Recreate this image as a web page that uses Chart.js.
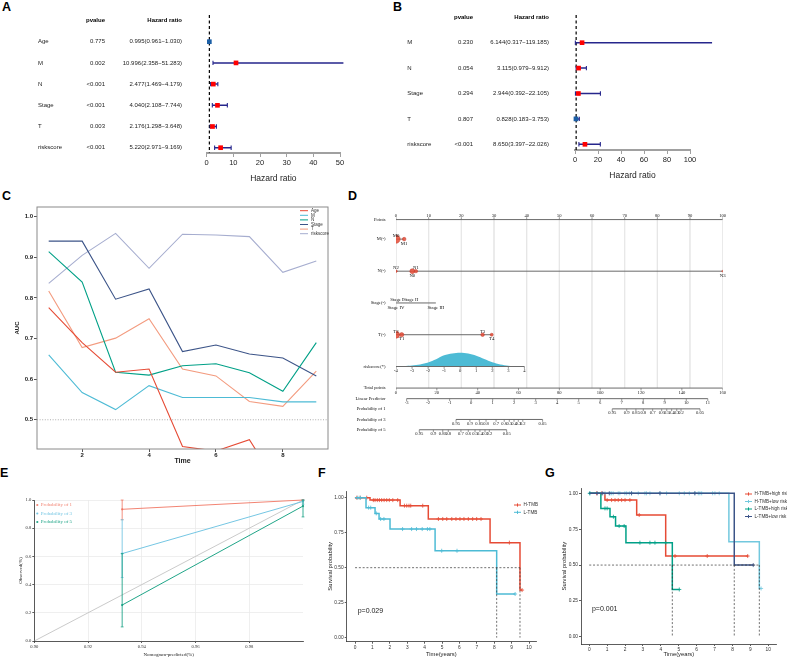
<!DOCTYPE html>
<html>
<head>
<meta charset="utf-8">
<script src="https://cdn.jsdelivr.net/npm/chart.js@4.4.0/dist/chart.umd.min.js"></script>
<style>
body{margin:0;background:#fff;width:787px;height:658px;position:relative;overflow:hidden}
canvas{position:absolute}
.tag{position:absolute;font:bold 12.5px Arial,"Liberation Sans",sans-serif;line-height:12.5px;color:#000}
</style>
</head>
<body>
<div class="tag" style="left:2px;top:1px">A</div>
<div class="tag" style="left:393px;top:1px">B</div>
<div class="tag" style="left:2px;top:190px">C</div>
<div class="tag" style="left:348px;top:190px">D</div>
<div class="tag" style="left:0px;top:467px">E</div>
<div class="tag" style="left:318px;top:467px">F</div>
<div class="tag" style="left:545px;top:467px">G</div>

<canvas id="cA" width="390" height="192" style="left:0;top:0"></canvas>
<canvas id="cB" width="397" height="192" style="left:390px;top:0"></canvas>
<canvas id="cC" width="340" height="270" style="left:0;top:197px"></canvas>
<canvas id="cD" width="447" height="250" style="left:340px;top:195px"></canvas>
<canvas id="cE" width="315" height="168" style="left:0;top:490px"></canvas>
<canvas id="cF" width="230" height="173" style="left:318px;top:485px"></canvas>
<canvas id="cG" width="239" height="178" style="left:548px;top:480px"></canvas>

<script>
// ---------- A: univariate cox ----------
var uniVars = ['Age', 'M', 'N', 'Stage', 'T', 'riskscore'];
var uniP = ['0.775', '0.002', '<0.001', '<0.001', '0.003', '<0.001'];
var uniHR = [0.995, 10.996, 2.477, 4.040, 2.176, 5.220];
var uniLow = [0.961, 2.358, 1.469, 2.108, 1.298, 2.971];
var uniHigh = [1.030, 51.283, 4.179, 7.744, 3.648, 9.169];
var uniTicks = [0, 10, 20, 30, 40, 50];

// ---------- B: multivariate cox ----------
var multiVars = ['M', 'N', 'Stage', 'T', 'riskscore'];
var multiP = ['0.230', '0.054', '0.294', '0.807', '<0.001'];
var multiHR = [6.144, 3.115, 2.944, 0.828, 8.650];
var multiLow = [0.317, 0.979, 0.392, 0.183, 3.397];
var multiHigh = [119.185, 9.912, 22.105, 3.753, 22.026];
var multiTicks = [0, 20, 40, 60, 80, 100];

// ---------- C: time dependent AUC ----------
var aucTime = [1, 2, 3, 4, 5, 6, 7, 8, 9];
var aucAge = [0.776, 0.690, 0.617, 0.625, 0.434, 0.423, 0.451, 0.320, 0.350];
var aucM = [0.660, 0.567, 0.525, 0.584, 0.555, 0.555, 0.555, 0.544, 0.544];
var aucN = [0.914, 0.839, 0.617, 0.610, 0.633, 0.638, 0.616, 0.570, 0.690];
var aucStage = [0.940, 0.940, 0.797, 0.822, 0.668, 0.684, 0.662, 0.652, 0.608];
var aucT = [0.817, 0.678, 0.701, 0.749, 0.625, 0.608, 0.545, 0.533, 0.620];
var aucRisk = [0.836, 0.905, 0.959, 0.873, 0.957, 0.955, 0.951, 0.863, 0.891];
var aucTicksX = [2, 4, 6, 8];
var aucTicksY = [0.5, 0.6, 0.7, 0.8, 0.9, 1.0];

// ---------- D: nomogram ----------
var pointsTicks = [0, 10, 20, 30, 40, 50, 60, 70, 80, 90, 100];
var mLev = ['M0', 'M1'], mPts = [0, 2.5], mFreq = [0.85, 0.16];
var nLev = ['N2', 'N0', 'N1', 'N3'], nPts = [0, 5.0, 6.1, 100], nFreq = [0.08, 0.3, 0.14, 0.04];
var stLev = ['Stage IV', 'Stage I', 'Stage II', 'Stage III'], stPts = [0, 0.3, 4.5, 12.2];
var tLev = ['T2', 'T1', 'T3', 'T4'], tPts = [0, 1.75, 26.5, 29.3], tFreq = [0.62, 0.22, 0.16, 0.11];
var riskTicks = [-4, -3, -2, -1, 0, 1, 2, 3, 4];
var riskPtsEnds = [0, 39.3];
var riskDensX = [-4, -3.5, -3, -2.5, -2, -1.5, -1, -0.5, 0, 0.5, 1, 1.5, 2, 2.5, 3, 3.5, 4];
var riskDens = [0.3, 0.6, 1.1, 2.2, 4.2, 7.6, 11.6, 13.6, 14.3, 13.5, 11.2, 7.8, 4.3, 2.0, 0.8, 0.3, 0.1];
var totalTicks = [0, 20, 40, 60, 80, 100, 120, 140, 160];
var lpTicks = [-3, -2, -1, 0, 1, 2, 3, 4, 5, 6, 7, 8, 9, 10, 11];
var lpTotalEnds = [5.2, 152.7];
var probLabels = ['0.95', '0.9', '0.85', '0.8', '0.7', '0.6', '0.5', '0.4', '0.3', '0.2', '0.05'];
var prob1Total = [105.9, 113.0, 117.5, 121.1, 125.7, 130.1, 132.6, 135.0, 137.5, 139.6, 148.9];
var prob3Total = [29.4, 36.2, 40.8, 44.1, 49.0, 53.0, 55.5, 57.8, 59.9, 62.1, 71.8];
var prob5Total = [11.4, 18.3, 22.9, 25.6, 31.8, 35.4, 38.7, 41.1, 43.6, 45.7, 54.2];

// ---------- E: calibration ----------
var calPred = [0.9327, 1.0];
var cal1 = [0.934, 1.0], cal1Lo = [0.86, 0.995], cal1Hi = [1.0, 1.0];
var cal3 = [0.620, 0.990], cal3Lo = [0.45, 0.97], cal3Hi = [0.86, 1.0];
var cal5 = [0.255, 0.957], cal5Lo = [0.10, 0.88], cal5Hi = [0.62, 1.0];
var calTicksX = [0.90, 0.92, 0.94, 0.96, 0.98];
var calTicksY = [0, 0.2, 0.4, 0.6, 0.8, 1.0];

// ---------- F: KM by TMB ----------
var fHTime = [0, 0.86, 2.59, 4.21, 7.76, 9.48, 9.60];
var fHSurv = [1, 0.983, 0.943, 0.848, 0.679, 0.340, 0.340];
var fHCens = [0.1, 0.29, 0.67, 1.05, 1.15, 1.28, 1.4, 1.53, 1.67, 1.82, 1.97, 2.17, 2.45, 2.84, 2.97, 3.1, 3.2, 3.89,
  4.79, 5.04, 5.27, 5.56, 5.8, 6.03, 6.26, 6.51, 6.76, 6.99, 7.24, 8.87, 9.6];
var fLTime = [0, 0.63, 1.15, 1.38, 2.01, 4.60, 8.14, 9.20];
var fLSurv = [1, 0.929, 0.888, 0.848, 0.776, 0.621, 0.312, 0.312];
var fLCens = [0.16, 0.3, 0.78, 0.9, 1.22, 1.47, 1.66, 2.73, 3.25, 3.53, 3.86, 4.16, 4.3, 4.98, 5.86, 9.2];
var fMedians = [8.14, 9.48];

// ---------- G: KM by TMB + risk ----------
var gHHTime = [0, 0.877, 2.65, 4.27, 8.88];
var gHHSurv = [1, 0.953, 0.849, 0.563, 0.563];
var gHHCens = [0.41, 0.69, 1.0, 1.25, 1.44, 1.62, 1.81, 2.0, 2.27, 2.79, 4.79, 6.59, 8.85];
var gHLTime = [0, 7.8, 9.5, 9.6];
var gHLSurv = [1, 0.662, 0.337, 0.337];
var gHLCens = [0.04, 0.88, 1.16, 1.25, 1.34, 1.62, 1.71, 1.99, 2.09, 2.24, 2.37, 2.74, 3.11, 3.2, 3.39, 3.95, 4.32,
  5.03, 5.31, 5.59, 5.9, 6.09, 6.18, 6.28, 6.89, 7.02, 7.26, 9.6];
var gLHTime = [0, 0.65, 1.16, 1.47, 2.05, 4.64, 5.03];
var gLHSurv = [1, 0.895, 0.837, 0.772, 0.656, 0.330, 0.330];
var gLHCens = [0.03, 0.88, 1.0, 1.35, 1.67, 1.95, 2.83, 3.39, 3.67, 4.27, 5.03];
var gLLTime = [0, 8.1, 9.16];
var gLLSurv = [1, 0.5, 0.5];
var gLLCens = [0.45, 0.75, 1.12, 2.36, 3.95, 5.9, 9.16];
var gMedians = [4.64, 8.1, 9.5];
var kmTicksX = [0, 1, 2, 3, 4, 5, 6, 7, 8, 9, 10];
var kmTicksY = [0, 0.25, 0.5, 0.75, 1];

// ---------- common ----------
var SANS = "Arial, 'Liberation Sans', Helvetica, sans-serif";
var SERIF = "'Times New Roman', 'Liberation Serif', 'DejaVu Serif', serif";
Chart.defaults.font.family = SANS;
Chart.defaults.color = '#222';
Chart.defaults.animation = false;
Chart.defaults.responsive = false;
Chart.defaults.maintainAspectRatio = false;
Chart.defaults.plugins.legend.display = false;
Chart.defaults.plugins.tooltip.enabled = false;
Chart.defaults.elements.point.radius = 0;
Chart.defaults.elements.point.hoverRadius = 0;

var npg = {red: '#E64B35', blue: '#4DBBD5', teal: '#00A087', navy: '#3C5488', salmon: '#F39B7F', lav: '#8491B4'};

function tickList(arr) { return function (s) { s.ticks = arr.map(function (v) { return {value: v}; }); }; }
function segs(list) {
  var d = [];
  list.forEach(function (p) { d.push({x: p[0], y: p[1]}, {x: p[2], y: p[3]}, {x: p[2], y: null}); });
  return d;
}
function txt(ctx, s, x, y, font, align, color, base) {
  ctx.save();
  ctx.font = font; ctx.textAlign = align || 'left'; ctx.textBaseline = base || 'middle';
  ctx.fillStyle = color || '#000';
  ctx.fillText(s, x, y);
  ctx.restore();
}

// ---------- forest plots ----------
function forest(id, o) {
  var n = o.vars.length;
  function row(i) { return n - i; }
  var ci = segs(o.vars.map(function (v, i) { return [o.low[i], row(i), o.high[i], row(i)]; }));
  var hrText = o.hr.map(function (h, i) {
    return h.toFixed(3) + '(' + o.low[i].toFixed(3) + '\u2212' + o.high[i].toFixed(3) + ')';
  });
  new Chart(document.getElementById(id), {
    type: 'line',
    data: {datasets: [
      {data: [{x: 1, y: o.ymax}, {x: 1, y: o.ymin}], borderColor: '#000', borderWidth: 1.2, borderDash: [3, 2.5], order: 3, clip: false},
      {data: ci, borderColor: '#26268C', borderWidth: 1.5, pointStyle: 'line', pointRotation: 90, pointRadius: 2.2,
        pointBorderWidth: 1.1, pointBorderColor: '#26268C', order: 2, clip: false},
      {type: 'scatter', data: o.hr.map(function (h, i) { return {x: h, y: row(i)}; }), pointStyle: 'rect', pointRadius: 3.3,
        pointBackgroundColor: o.hr.map(function (h) { return h > 1 ? '#FF0000' : '#1B5FA6'; }), pointBorderWidth: 0, order: 1, clip: false}
    ]},
    options: {
      layout: {padding: {left: o.left, right: o.right, top: 15, bottom: 0}},
      scales: {
        x: {type: 'linear', min: 0, max: o.xmax, afterBuildTicks: tickList(o.ticks),
          border: {display: true, color: '#a0a0a0', width: 2},
          grid: {display: true, drawOnChartArea: false, drawTicks: true, tickLength: 4, color: '#a0a0a0', lineWidth: 1},
          ticks: {font: {size: 7.5}, color: '#222', padding: 1, maxRotation: 0, autoSkip: false},
          title: {display: true, text: 'Hazard ratio', font: {size: 8.5}, color: '#222', padding: {top: 0, bottom: o.titlePad}},
          afterFit: function (s) { s.height = o.axisH; }},
        y: {type: 'linear', display: false, min: o.ymin, max: o.ymax}
      }
    },
    plugins: [{id: 'forestText', afterDraw: function (chart) {
      var ctx = chart.ctx, ys = chart.scales.y;
      var f = '6px ' + SANS, fb = 'bold 6px ' + SANS;
      txt(ctx, 'pvalue', o.pCol, o.headY, fb, 'right');
      txt(ctx, 'Hazard ratio', o.hrCol, o.headY, fb, 'right');
      o.vars.forEach(function (v, i) {
        var y = ys.getPixelForValue(row(i));
        txt(ctx, v, o.labCol, y, f, 'left', '#222');
        txt(ctx, o.p[i], o.pCol, y, f, 'right', '#222');
        txt(ctx, hrText[i], o.hrCol, y, f, 'right', '#222');
      });
    }}]
  });
}

forest('cA', {vars: uniVars, p: uniP, hr: uniHR, low: uniLow, high: uniHigh, ticks: uniTicks, xmax: 50,
  left: 206.7, right: 50, ymin: 0.75, ymax: 7.26, axisH: 39, titlePad: 8.5,
  labCol: 38, pCol: 105, hrCol: 182, headY: 20});
forest('cB', {vars: multiVars, p: multiP, hr: multiHR, low: multiLow, high: multiHigh, ticks: multiTicks, xmax: 100,
  left: 185, right: 97, ymin: 0.776, ymax: 6.09, axisH: 42, titlePad: 11.5,
  labCol: 17.3, pCol: 83, hrCol: 159, headY: 17});

// ---------- C ----------
(function () {
  var series = [
    ['Age', aucAge, npg.red], ['M', aucM, npg.blue], ['N', aucN, npg.teal],
    ['Stage', aucStage, npg.navy], ['T', aucT, npg.salmon], ['riskscore', aucRisk, '#A6ADCF']
  ];
  var ds = series.map(function (s) {
    return {label: s[0], data: aucTime.map(function (t, i) { return {x: t, y: s[1][i]}; }),
      borderColor: s[2], borderWidth: 1.1, clip: 0};
  });
  ds.push({label: '', data: [{x: 0.65, y: 0.5}, {x: 9.35, y: 0.5}], borderColor: '#999', borderWidth: 0.8, borderDash: [1, 1.6]});
  new Chart(document.getElementById('cC'), {
    type: 'line',
    data: {datasets: ds},
    options: {
      layout: {padding: {left: 0, right: 12, top: 10, bottom: 0}},
      scales: {
        x: {type: 'linear', min: 0.65, max: 9.35, afterBuildTicks: tickList(aucTicksX),
          border: {display: false}, grid: {drawOnChartArea: false, tickLength: 3, color: '#555'},
          ticks: {font: {size: 6, weight: 'bold'}, color: '#222', padding: 0},
          title: {display: true, text: 'Time', font: {size: 7, weight: 'bold'}, color: '#222', padding: {top: 0, bottom: 1.8}},
          afterFit: function (s) { s.height = 18; }},
        y: {type: 'linear', min: 0.428, max: 1.024, afterBuildTicks: tickList(aucTicksY),
          border: {display: false}, grid: {drawOnChartArea: false, tickLength: 3, color: '#555'},
          ticks: {font: {size: 6, weight: 'bold'}, color: '#222', padding: 1, callback: function (v) { return v.toFixed(1); }},
          title: {display: true, text: 'AUC', font: {size: 6, weight: 'bold'}, color: '#222', padding: {top: 13.4, bottom: 0}},
          afterFit: function (s) { s.width = 37; }}
      }
    },
    plugins: [{id: 'frameLegend', afterDraw: function (chart) {
      var ctx = chart.ctx, a = chart.chartArea;
      ctx.save(); ctx.strokeStyle = '#8a8a8a'; ctx.lineWidth = 1;
      ctx.strokeRect(a.left, a.top, a.right - a.left, a.bottom - a.top); ctx.restore();
      series.forEach(function (s, i) {
        var y = a.top + 3.7 + i * 4.6;
        ctx.save(); ctx.strokeStyle = s[2]; ctx.lineWidth = 1;
        ctx.beginPath(); ctx.moveTo(a.right - 28, y); ctx.lineTo(a.right - 20, y); ctx.stroke(); ctx.restore();
        txt(ctx, s[0], a.right - 17, y, '4.5px ' + SANS, 'left', '#333');
      });
    }}]
  });
})();

// ---------- D: nomogram ----------
(function () {
  var Y = {points: 215.7, m: 236, n: 269.3, stage: 302.3, t: 335.3, risk: 368.3, total: 390.7, lp: 401.7, p1: 412.3, p3: 423.3, p5: 434};
  function pts(t) { return t * 100 / 160; }
  function riskPts(r) {
    return riskPtsEnds[0] + (r - riskTicks[0]) * (riskPtsEnds[1] - riskPtsEnds[0]) / (riskTicks[riskTicks.length - 1] - riskTicks[0]);
  }
  function lpPts(v) {
    return pts(lpTotalEnds[0] + (v - lpTicks[0]) * (lpTotalEnds[1] - lpTotalEnds[0]) / (lpTicks[lpTicks.length - 1] - lpTicks[0]));
  }
  function pr(arr) { return arr.map(function (t, i) { return [pts(t), probLabels[i]]; }); }
  var axes = [
    {y: Y.points, up: true, ticks: pointsTicks.map(function (v) { return [v, String(v)]; })},
    {y: Y.risk, ticks: riskTicks.map(function (r) { return [riskPts(r), String(r)]; })},
    {y: Y.total, ticks: totalTicks.map(function (t) { return [pts(t), String(t)]; })},
    {y: Y.lp, ticks: lpTicks.map(function (v) { return [lpPts(v), String(v)]; })},
    {y: Y.p1, ticks: pr(prob1Total)},
    {y: Y.p3, ticks: pr(prob3Total)},
    {y: Y.p5, ticks: pr(prob5Total)}
  ];
  var cats = [
    {y: Y.m, lev: mLev, pts: mPts, freq: mFreq, up: [1, 0]},
    {y: Y.n, lev: nLev, pts: nPts, freq: nFreq, up: [1, 0, 1, 0]},
    {y: Y.stage, lev: stLev, pts: stPts, freq: null, up: [0, 1, 1, 0]},
    {y: Y.t, lev: tLev, pts: tPts, freq: tFreq, up: [1, 0, 1, 0]}
  ];
  var rowLabels = [['Points', Y.points], ['M(-)', Y.m], ['N(-)', Y.n], ['Stage(-)', Y.stage], ['T(-)', Y.t],
    ['riskscore(*)', Y.risk], ['Total points', Y.total], ['Linear Predictor', Y.lp],
    ['Probability of 1', Y.p1], ['Probability of 3', Y.p3], ['Probability of 5', Y.p5]];

  var axisLines = axes.map(function (a) { return [a.ticks[0][0], a.y, a.ticks[a.ticks.length - 1][0], a.y]; })
    .concat(cats.map(function (c) { return [Math.min.apply(null, c.pts), c.y, Math.max.apply(null, c.pts), c.y]; }));
  var tickMarks = [];
  axes.forEach(function (a) { a.ticks.forEach(function (t) { tickMarks.push({x: t[0], y: a.y + (a.up ? -1.2 : 1.2)}); }); });
  var dots = [], dotR = [];
  cats.forEach(function (c) {
    if (!c.freq) return;
    c.pts.forEach(function (p, i) { dots.push({x: p, y: c.y}); dotR.push(4.5 * Math.sqrt(c.freq[i])); });
  });

  new Chart(document.getElementById('cD'), {
    type: 'line',
    data: {datasets: [
      {data: segs(pointsTicks.map(function (v) { return [v, Y.points, v, Y.total]; })), borderColor: '#e6e6e6', borderWidth: 0.8, order: 6},
      {data: riskDensX.map(function (r, i) { return {x: riskPts(r), y: Y.risk - riskDens[i]}; }), borderColor: 'rgba(0,0,0,0)',
        borderWidth: 0, backgroundColor: '#4DBBD5', fill: {value: Y.risk}, tension: 0.3, order: 5},
      {data: segs(axisLines), borderColor: '#6a6a6a', borderWidth: 1, order: 4},
      {type: 'scatter', data: tickMarks, pointStyle: 'line', pointRotation: 90, pointRadius: 1.2, pointBorderColor: '#6a6a6a', pointBorderWidth: 0.7, order: 3},
      {type: 'scatter', data: dots, pointRadius: dotR, pointBackgroundColor: 'rgba(230,75,53,0.85)', pointBorderColor: '#C0392B', pointBorderWidth: 0.5, order: 2}
    ]},
    options: {
      layout: {padding: {left: 56, right: 64.3, top: 0, bottom: 0}},
      scales: {
        x: {type: 'linear', min: 0, max: 100, display: false},
        y: {type: 'linear', min: 195, max: 445, reverse: true, display: false}
      }
    },
    plugins: [{id: 'nomoText', afterDraw: function (chart) {
      var ctx = chart.ctx, xs = chart.scales.x, ys = chart.scales.y;
      var f = '4.6px ' + SERIF;
      rowLabels.forEach(function (r) { txt(ctx, r[0], 45.5, ys.getPixelForValue(r[1]), f, 'right', '#111'); });
      axes.forEach(function (a) {
        a.ticks.forEach(function (t) {
          txt(ctx, t[1], xs.getPixelForValue(t[0]), ys.getPixelForValue(a.y + (a.up ? -4 : 4.4)), f, 'center', '#222');
        });
      });
      cats.forEach(function (c) {
        c.lev.forEach(function (l, i) {
          txt(ctx, l, xs.getPixelForValue(c.pts[i]), ys.getPixelForValue(c.y + (c.up[i] ? -3.6 : 4.6)), '4.8px ' + SERIF, 'center', '#111');
        });
      });
    }}]
  });
})();

// ---------- E: calibration ----------
(function () {
  var groups = [
    ['Probability of 1', cal1, cal1Lo, cal1Hi, 'rgba(240,110,90,0.85)'],
    ['Probability of 3', cal3, cal3Lo, cal3Hi, 'rgba(110,195,225,0.95)'],
    ['Probability of 5', cal5, cal5Lo, cal5Hi, 'rgba(20,160,130,0.95)']
  ];
  var ds = [{data: [{x: 0.9, y: 0}, {x: 1.0, y: 1.0}], borderColor: '#c4c4c4', borderWidth: 0.9, order: 10}];
  groups.forEach(function (g, k) {
    ds.push({data: calPred.map(function (x, i) { return {x: x, y: g[1][i]}; }), borderColor: g[4], borderWidth: 1,
      pointStyle: 'circle', pointRadius: 1.1, pointBackgroundColor: g[4], pointBorderWidth: 0, clip: false, order: 3 - k});
    ds.push({data: segs(calPred.map(function (x, i) { return [x, g[2][i], x, g[3][i]]; })), borderColor: g[4], borderWidth: 0.9,
      pointStyle: 'line', pointRadius: 1.4, pointBorderColor: g[4], pointBorderWidth: 0.8, clip: false, order: 3 - k});
  });
  new Chart(document.getElementById('cE'), {
    type: 'line',
    data: {datasets: ds},
    options: {
      layout: {padding: {left: 0, right: 12, top: 10, bottom: 0}},
      scales: {
        x: {type: 'linear', min: 0.9, max: 1.0, afterBuildTicks: tickList(calTicksX),
          border: {display: true, color: '#333', width: 0.8},
          grid: {display: true, color: '#ebebeb', lineWidth: 0.8, tickLength: 2, tickColor: '#333'},
          ticks: {font: {size: 4.6, family: SERIF}, color: '#333', padding: 1, callback: function (v) { return v.toFixed(2); }},
          title: {display: true, text: 'Nomogram-predicted(%)', font: {size: 5, family: SERIF}, color: '#222', padding: {top: 0, bottom: 0.7}},
          afterFit: function (s) { s.height = 17; }},
        y: {type: 'linear', min: 0, max: 1.0, afterBuildTicks: tickList(calTicksY),
          border: {display: true, color: '#333', width: 0.8},
          grid: {display: true, color: '#ebebeb', lineWidth: 0.8, tickLength: 2, tickColor: '#333'},
          ticks: {font: {size: 4.6, family: SERIF}, color: '#333', padding: 1, callback: function (v) { return v.toFixed(1); }},
          title: {display: true, text: 'Observed(%)', font: {size: 5, family: SERIF}, color: '#222', padding: {top: 17.7, bottom: 0}},
          afterFit: function (s) { s.width = 34.3; }}
      }
    },
    plugins: [{id: 'calLegend', afterDraw: function (chart) {
      var ctx = chart.ctx, a = chart.chartArea;
      groups.forEach(function (g, i) {
        var y = a.top + 5 + i * 8.5;
        ctx.save(); ctx.fillStyle = g[4]; ctx.beginPath(); ctx.arc(a.left + 3, y, 1.1, 0, Math.PI * 2); ctx.fill(); ctx.restore();
        txt(ctx, g[0], a.left + 6.4, y, '5px ' + SERIF, 'left', g[4]);
      });
    }}]
  });
})();

// ---------- F, G: Kaplan-Meier ----------
function survAt(times, surv, t) {
  var s = surv[0];
  for (var i = 0; i < times.length; i++) if (times[i] <= t) s = surv[i];
  return s;
}
function kmSets(times, surv, cens, color, order) {
  return [
    {data: times.map(function (t, i) { return {x: t, y: surv[i]}; }), stepped: 'before', borderColor: color, borderWidth: 1.5, order: order},
    {type: 'scatter', data: cens.map(function (t) { return {x: t, y: survAt(times, surv, t)}; }), pointStyle: 'cross',
      pointRadius: 2, pointBorderColor: color, pointBorderWidth: 0.8, order: order}
  ];
}
function medianLines(meds) {
  var mx = Math.max.apply(null, meds);
  return {data: segs([[0, 0.5, mx, 0.5]].concat(meds.map(function (m) { return [m, 0.5, m, 0]; }))),
    borderColor: '#333', borderWidth: 0.7, borderDash: [2, 1.8], order: 0};
}
function kmChart(id, o) {
  new Chart(document.getElementById(id), {
    type: 'line',
    data: {datasets: o.sets},
    options: {
      layout: {padding: {left: 0, right: o.right, top: o.top, bottom: 0}},
      scales: {
        x: {type: 'linear', min: o.xmin, max: o.xmax, afterBuildTicks: tickList(kmTicksX),
          border: {display: true, color: '#333', width: 0.8},
          grid: {drawOnChartArea: false, tickLength: 2, color: '#333', lineWidth: 0.8},
          ticks: {font: {size: 4.8}, color: '#333', padding: 1, maxRotation: 0},
          title: {display: true, text: 'Time(years)', font: {size: 5.8}, color: '#222', padding: {top: 0, bottom: 0}},
          afterFit: function (s) { s.height = o.xh; }},
        y: {type: 'linear', min: o.ymin, max: o.ymax, afterBuildTicks: tickList(kmTicksY),
          border: {display: true, color: '#333', width: 0.8},
          grid: {drawOnChartArea: false, tickLength: 2, color: '#333', lineWidth: 0.8},
          ticks: {font: {size: 4.8}, color: '#333', padding: 1, callback: function (v) { return v.toFixed(2); }},
          title: {display: true, text: 'Survival probability', font: {size: 5.8}, color: '#222', padding: {top: o.ytPad, bottom: 0}},
          afterFit: function (s) { s.width = o.yw; }}
      }
    },
    plugins: [{id: 'kmText', afterDraw: function (chart) {
      var ctx = chart.ctx, xs = chart.scales.x, ys = chart.scales.y;
      txt(ctx, o.pText, xs.getPixelForValue(0.15), ys.getPixelForValue(0.19), '7px ' + SANS, 'left', '#222');
      o.legend.forEach(function (l, i) {
        var y = o.legY + i * o.legStep;
        ctx.save(); ctx.strokeStyle = l[1]; ctx.lineWidth = 1;
        ctx.beginPath(); ctx.moveTo(o.legX, y); ctx.lineTo(o.legX + 7, y); ctx.stroke();
        ctx.beginPath(); ctx.moveTo(o.legX + 3.5, y - 1.6); ctx.lineTo(o.legX + 3.5, y + 1.6); ctx.stroke();
        ctx.restore();
        txt(ctx, l[0], o.legX + 9.5, y, '4.6px ' + SANS, 'left', '#333');
      });
    }}]
  });
}

kmChart('cF', {
  sets: [medianLines(fMedians)].concat(kmSets(fHTime, fHSurv, fHCens, npg.red, 2), kmSets(fLTime, fLSurv, fLCens, npg.blue, 1)),
  xmin: -0.48, xmax: 10.4, ymin: -0.029, ymax: 1.048, right: 12, top: 6, xh: 16.3, yw: 28.7, ytPad: 8.7,
  pText: 'p=0.029', legX: 196, legY: 20, legStep: 7.3,
  legend: [['H-TMB', npg.red], ['L-TMB', npg.blue]]
});
kmChart('cG', {
  sets: [medianLines(gMedians)].concat(
    kmSets(gHHTime, gHHSurv, gHHCens, npg.red, 4), kmSets(gHLTime, gHLSurv, gHLCens, '#72C8DE', 3),
    kmSets(gLHTime, gLHSurv, gLHCens, npg.teal, 2), kmSets(gLLTime, gLLSurv, gLLCens, npg.navy, 1)),
  xmin: -0.46, xmax: 10.47, ymin: -0.05, ymax: 1.035, right: 10.3, top: 8.3, xh: 14, yw: 33, ytPad: 13,
  pText: 'p=0.001', legX: 197, legY: 14, legStep: 7.5,
  legend: [['H-TMB+high risk', npg.red], ['H-TMB+low risk', '#72C8DE'], ['L-TMB+high risk', npg.teal], ['L-TMB+low risk', npg.navy]]
});
</script>
</body>
</html>
